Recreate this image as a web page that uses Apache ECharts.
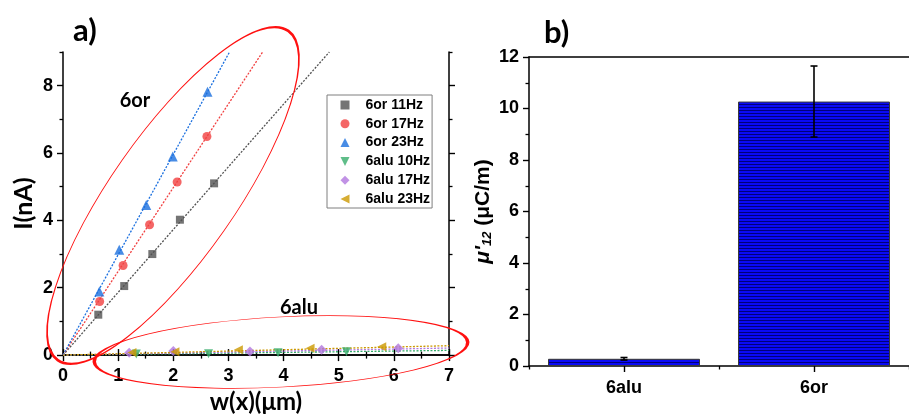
<!DOCTYPE html>
<html><head><meta charset="utf-8">
<script src="https://cdn.jsdelivr.net/npm/echarts@6/dist/echarts.min.js"></script>
<style>html,body{margin:0;padding:0;background:#fff}#c{width:909px;height:419px}</style>
</head><body><div id="c"></div>
<script>
// ---------- Panel a) data ----------
const seriesNames = ['6or 11Hz', '6or 17Hz', '6or 23Hz', '6alu 10Hz', '6alu 17Hz', '6alu 23Hz'];
const or11X = [0.64, 1.11, 1.62, 2.12, 2.74];
const or11Y = [1.20, 2.05, 3.00, 4.02, 5.10];
const or17X = [0.665, 1.09, 1.57, 2.07, 2.61];
const or17Y = [1.59, 2.66, 3.87, 5.14, 6.49];
const or23X = [0.66, 1.02, 1.51, 1.99, 2.62];
const or23Y = [1.89, 3.13, 4.46, 5.90, 7.82];
const alu10X = [1.33, 2.64, 3.90, 5.14];
const alu10Y = [0.03, 0.04, 0.07, 0.10];
const alu17X = [1.20, 2.00, 3.39, 4.69, 6.08];
const alu17Y = [0.07, 0.12, 0.11, 0.16, 0.20];
const alu23X = [1.25, 2.03, 3.18, 4.48, 5.78];
const alu23Y = [0.08, 0.10, 0.16, 0.20, 0.25];
// linear fit lines (start at origin, end where they leave the frame)
const fitEndX = [4.83, 3.62, 3.02, 7, 7, 7];
const fitEndY = [9, 9, 9, 0.14, 0.21, 0.28];
const yLabelsA = [0, 2, 4, 6, 8];
const yMinorA = [1, 3, 5, 7, 9];

// ---------- Panel b) data ----------
const barCats = ['6alu', '6or'];
const barVals = [0.28, 10.27];
const barErr = [0.05, 1.38];

const colors = ['#515151', '#F14040', '#1A6FDF', '#37AD6B', '#B177DE', '#CC9900'];
const symbols = ['rect', 'circle', 'triangle',
  'path://M0,0 L10,0 L5,10 Z', 'diamond', 'path://M10,0 L10,10 L0,5 Z'];
const symSizes = [8, 9, 10, 9, 10, 9];
const xsA = [or11X, or17X, or23X, alu10X, alu17X, alu23X];
const ysA = [or11Y, or17Y, or23Y, alu10Y, alu17Y, alu23Y];

const FN = 'Liberation Sans';
const axisLineStyle = { color: '#000', width: 1.5 };
const TC = '#000';
const LMAJ = 6, LMIN = 3.5;
const tickMaj = { show: true, inside: false, length: LMAJ, lineStyle: { width: 1.4, color: TC } };
const tickMin = { show: true, splitNumber: 2, length: LMIN, lineStyle: { width: 1.3, color: TC } };

// striped blue pattern for the bars
const pat = document.createElement('canvas');
pat.width = 4; pat.height = 3;
const pc = pat.getContext('2d');
pc.fillStyle = '#0a0af5'; pc.fillRect(0, 0, 4, 3);
pc.fillStyle = '#00007a'; pc.fillRect(0, 2, 4, 1);

const series = [];
for (let i = 0; i < 6; i++) {
  series.push({
    type: 'line', xAxisIndex: 0, yAxisIndex: 0, silent: true, symbol: 'none',
    data: [[0, 0], [fitEndX[i], fitEndY[i]]],
    lineStyle: { color: colors[i], width: 1.3, type: [2, 1.5] }, z: 2
  });
}
for (let i = 0; i < 6; i++) {
  series.push({
    name: seriesNames[i], type: 'scatter', xAxisIndex: 0, yAxisIndex: 0,
    symbol: symbols[i], symbolSize: symSizes[i],
    itemStyle: { color: colors[i] },
    data: xsA[i].map((x, k) => [x, ysA[i][k]]), z: 3
  });
}
series.push({
  type: 'bar', xAxisIndex: 2, yAxisIndex: 4, barWidth: '80%',
  data: barVals,
  itemStyle: { color: { image: pat, repeat: 'repeat' }, borderColor: '#3a3a3a', borderWidth: 1 }
});
series.push({
  type: 'custom', xAxisIndex: 2, yAxisIndex: 4, z: 5,
  data: barCats.map((c, i) => [i, barVals[i], barErr[i]]),
  renderItem: function (params, api) {
    const x = api.value(0), v = api.value(1), e = api.value(2);
    const t = api.coord([x, v + e]), b = api.coord([x, v - e]);
    const w = 3.5, st = { stroke: '#000', lineWidth: 1.6 };
    return { type: 'group', children: [
      { type: 'line', shape: { x1: t[0], y1: t[1], x2: b[0], y2: b[1] }, style: st },
      { type: 'line', shape: { x1: t[0] - w, y1: t[1], x2: t[0] + w, y2: t[1] }, style: st },
      { type: 'line', shape: { x1: b[0] - w, y1: b[1], x2: b[0] + w, y2: b[1] }, style: st }
    ]};
  }
});

const chart = echarts.init(document.getElementById('c'), null, { renderer: 'canvas' });
chart.setOption({
  animation: false,
  backgroundColor: '#fff',
  grid: [
    { left: 63, top: 52, width: 386, height: 311 },
    { left: 529, top: 57, width: 390, height: 309 }
  ],
  legend: {
    data: seriesNames, orient: 'vertical', left: 327, top: 95,
    padding: [3, 2, 2, 13.5], itemGap: 4.8, itemWidth: 9, itemHeight: 9,
    borderColor: '#7f7f7f', borderWidth: 1, backgroundColor: '#fff',
    textStyle: { fontFamily: FN, fontWeight: 'bold', fontSize: 14, lineHeight: 14, color: '#000', padding: [0, 0, 0, 11] }
  },
  xAxis: [
    { type: 'value', gridIndex: 0, min: 0, max: 7, interval: 1, position: 'bottom',
      name: 'w(x)(μm)', nameLocation: 'middle', nameGap: 31,
      nameTextStyle: { fontFamily: 'Lato', fontWeight: 'bold', fontSize: 24, color: '#000' },
      axisLine: { show: true, lineStyle: axisLineStyle },
      axisTick: tickMaj, minorTick: tickMin,
      splitLine: { show: false },
      axisLabel: { fontFamily: FN, fontWeight: 'bold', fontSize: 18, color: '#000', margin: 12 } },
    { type: 'value', gridIndex: 0, min: 0, max: 7, interval: 1, position: 'top',
      axisLine: { show: true, lineStyle: axisLineStyle },
      axisTick: tickMaj, minorTick: tickMin,
      splitLine: { show: false }, axisLabel: { show: false } },
    { type: 'category', gridIndex: 1, data: barCats, position: 'bottom',
      axisLine: { show: true, lineStyle: axisLineStyle },
      axisTick: { show: true, alignWithLabel: true, length: LMAJ, lineStyle: { width: 1.4, color: TC } },
      axisLabel: { fontFamily: FN, fontWeight: 'bold', fontSize: 18, color: '#000', margin: 13 } },
    { type: 'category', gridIndex: 1, data: barCats, position: 'bottom',
      axisLine: { show: false },
      axisTick: { show: true, length: LMIN, lineStyle: { width: 1.3, color: TC } },
      axisLabel: { show: false } },
    { type: 'category', gridIndex: 1, data: barCats, position: 'top',
      axisLine: { show: true, lineStyle: axisLineStyle }, axisTick: { show: false }, axisLabel: { show: false } }
  ],
  yAxis: [
    { type: 'value', gridIndex: 0, min: 0, max: 9, interval: 1, position: 'left',
      name: 'I(nA)', nameLocation: 'middle', nameGap: 27, nameRotate: 90,
      nameTextStyle: { fontFamily: 'Lato', fontWeight: 'bold', fontSize: 25, color: '#000' },
      axisLine: { show: true, lineStyle: axisLineStyle },
      axisTick: { show: true, customValues: yLabelsA, length: LMAJ, lineStyle: { width: 1.4, color: TC } },
      splitLine: { show: false },
      axisLabel: { customValues: yLabelsA, fontFamily: FN, fontWeight: 'bold', fontSize: 18, color: '#000', margin: 10 } },
    { type: 'value', gridIndex: 0, min: 0, max: 9, interval: 1, position: 'left',
      axisLine: { show: false }, splitLine: { show: false }, axisLabel: { show: false },
      axisTick: { show: true, customValues: yMinorA, length: LMIN, lineStyle: { width: 1.3, color: TC } } },
    { type: 'value', gridIndex: 0, min: 0, max: 9, interval: 1, position: 'right',
      axisLine: { show: true, lineStyle: axisLineStyle }, splitLine: { show: false }, axisLabel: { show: false },
      axisTick: { show: true, customValues: yLabelsA, length: LMAJ, lineStyle: { width: 1.4, color: TC } } },
    { type: 'value', gridIndex: 0, min: 0, max: 9, interval: 1, position: 'right',
      axisLine: { show: false }, splitLine: { show: false }, axisLabel: { show: false },
      axisTick: { show: true, customValues: yMinorA, length: LMIN, lineStyle: { width: 1.3, color: TC } } },
    { type: 'value', gridIndex: 1, min: 0, max: 12, interval: 2, position: 'left',
      name: '{i|μ\'}{s|12}{n| (μC/m)}', nameLocation: 'middle', nameGap: 35, nameRotate: 90,
      nameTextStyle: { color: '#000', rich: {
        i: { fontFamily: FN, fontWeight: 'bold', fontStyle: 'italic', fontSize: 21, color: '#000' },
        s: { fontFamily: FN, fontWeight: 'bold', fontStyle: 'italic', fontSize: 13, color: '#000', padding: [9, 0, 0, 0] },
        n: { fontFamily: FN, fontWeight: 'bold', fontSize: 21, color: '#000' } } },
      axisLine: { show: true, lineStyle: axisLineStyle },
      axisTick: tickMaj, minorTick: tickMin,
      splitLine: { show: false },
      axisLabel: { fontFamily: FN, fontWeight: 'bold', fontSize: 18, color: '#000', margin: 10 } }
  ],
  graphic: [
    { type: 'text', left: 73, top: 15, style: { text: 'a)', font: 'bold 31px Lato', fill: '#000' } },
    { type: 'text', left: 544, top: 17, style: { text: 'b)', font: 'bold 31px Lato', fill: '#000' } },
    { type: 'text', x: 135, y: 101, style: { text: '6or', font: 'bold 20px Lato', fill: '#000', align: 'center', verticalAlign: 'middle' } },
    { type: 'text', x: 299, y: 308, style: { text: '6alu', font: 'bold 20px Lato', fill: '#000', align: 'center', verticalAlign: 'middle' } },
    { type: 'circle', x: 173, y: 195.5, rotation: 55 * Math.PI / 180, scaleX: 2.01, scaleY: 0.62, z: 100,
      shape: { cx: 0, cy: 0, r: 100 }, style: { fill: null, stroke: '#ff1010', lineWidth: 1.5, strokeNoScale: true } },
    { type: 'circle', x: 281, y: 352, rotation: 3 * Math.PI / 180, scaleX: 1.87, scaleY: 0.35, z: 100,
      shape: { cx: 0, cy: 0, r: 100 }, style: { fill: null, stroke: '#ff1010', lineWidth: 1.5, strokeNoScale: true } }
  ],
  series: series
});
</script></body></html>
